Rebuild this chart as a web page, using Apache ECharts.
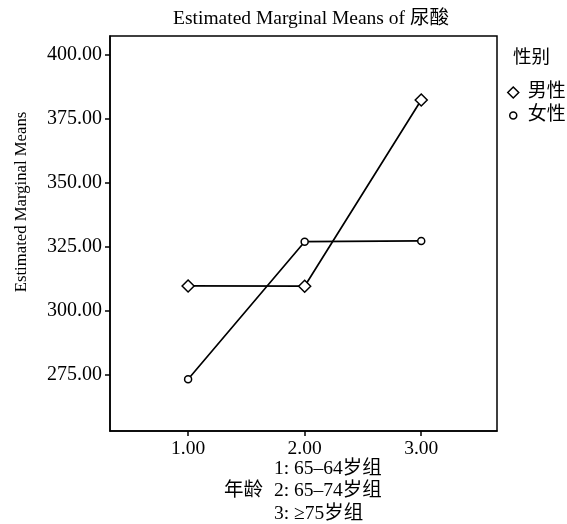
<!DOCTYPE html>
<html>
<head>
<meta charset="utf-8">
<script src="https://cdn.jsdelivr.net/npm/echarts@6/dist/echarts.min.js"></script>
<style>html,body{margin:0;padding:0;background:#fff}#c{width:567px;height:524px}</style>
</head>
<body>
<div id="c"></div>
<script>
var ageLevels = [1, 2, 3];
var maleValues = [309.7, 309.6, 382.4];
var femaleValues = [273.2, 327.0, 327.3];
var seriesNames = ['男性', '女性'];
var yTicks = [275, 300, 325, 350, 375, 400];
var xTicks = [1, 2, 3];
var ageNotes = ['1: 65–64岁组', '2: 65–74岁组', '3: ≥75岁组'];
var titleText = 'Estimated Marginal Means of 尿酸';
var yName = 'Estimated Marginal Means';
var legendTitle = '性别';
var xName = '年龄';

var FONT = '"Liberation Serif", "Noto Sans CJK SC", serif';
var chart = echarts.init(document.getElementById('c'));

function pairs(xs, ys) { return xs.map(function (x, i) { return [x, ys[i]]; }); }

chart.setOption({
  backgroundColor: '#fff',
  animation: false,
  title: {
    text: titleText,
    left: 306, top: 4, textAlign: 'center',
    textStyle: { fontFamily: FONT, fontSize: 19.5, fontWeight: 'normal', color: '#000' }
  },
  grid: { left: 110, right: 70, top: 36, bottom: 93, show: true, borderColor: '#000', borderWidth: 1.5, backgroundColor: '#fff' },
  legend: {
    orient: 'vertical', left: 502, top: 78, itemGap: 4, itemWidth: 11, itemHeight: 11,
    textStyle: { fontFamily: FONT, fontSize: 19, color: '#000', padding: [0, 0, 0, 4] },
    data: [
      { name: seriesNames[0], icon: 'diamond', itemStyle: { color: '#fff', borderColor: '#000', borderWidth: 1.5 } },
      { name: seriesNames[1], icon: 'path://M0,0M22,22M11,4A7,7,0,1,1,10.99,4Z', itemStyle: { color: '#fff', borderColor: '#000', borderWidth: 1.5 } }
    ]
  },
  xAxis: {
    type: 'value', min: 0.33, max: 3.65,
    axisLine: { show: true, lineStyle: { color: '#000', width: 1.5 } },
    axisTick: { show: true, length: 5, customValues: xTicks, lineStyle: { color: '#000', width: 1.5 } },
    axisLabel: { customValues: xTicks, margin: 8, color: '#000', fontFamily: FONT, fontSize: 19.5,
      formatter: function (v) { return v.toFixed(2); } },
    splitLine: { show: false }
  },
  yAxis: {
    type: 'value', min: 253, max: 407.4,
    name: yName, nameLocation: 'middle', nameGap: 80, nameRotate: 90,
    nameTextStyle: { fontFamily: FONT, fontSize: 16.7, color: '#000', padding: [0, 0, 0, 63] },
    axisLine: { show: true, lineStyle: { color: '#000', width: 1.5 } },
    axisTick: { show: true, length: 5, customValues: yTicks, lineStyle: { color: '#000', width: 1.5 } },
    axisLabel: { customValues: yTicks, margin: 8, color: '#000', fontFamily: FONT, fontSize: 20,
      formatter: function (v) { return v.toFixed(2); } },
    splitLine: { show: false }
  },
  graphic: [
    { type: 'text', left: 513, top: 49, style: { text: legendTitle, font: '18.5px ' + FONT, fill: '#000' } },
    { type: 'text', left: 224, top: 481, style: { text: xName, font: '19.5px ' + FONT, fill: '#000' } },
    { type: 'text', left: 274, top: 459, style: { text: ageNotes[0], font: '19.5px ' + FONT, fill: '#000' } },
    { type: 'text', left: 274, top: 481, style: { text: ageNotes[1], font: '19.5px ' + FONT, fill: '#000' } },
    { type: 'text', left: 274, top: 504, style: { text: ageNotes[2], font: '19.5px ' + FONT, fill: '#000' } }
  ],
  series: [
    {
      name: seriesNames[0], type: 'line', data: pairs(ageLevels, maleValues),
      symbol: 'diamond', symbolSize: 12, showAllSymbol: true,
      lineStyle: { color: '#000', width: 1.7 },
      itemStyle: { color: '#fff', borderColor: '#000', borderWidth: 1.5 }
    },
    {
      name: seriesNames[1], type: 'line', data: pairs(ageLevels, femaleValues),
      symbol: 'circle', symbolSize: 7, showAllSymbol: true,
      lineStyle: { color: '#000', width: 1.7 },
      itemStyle: { color: '#fff', borderColor: '#000', borderWidth: 1.5 }
    }
  ]
});
</script>
</body>
</html>
